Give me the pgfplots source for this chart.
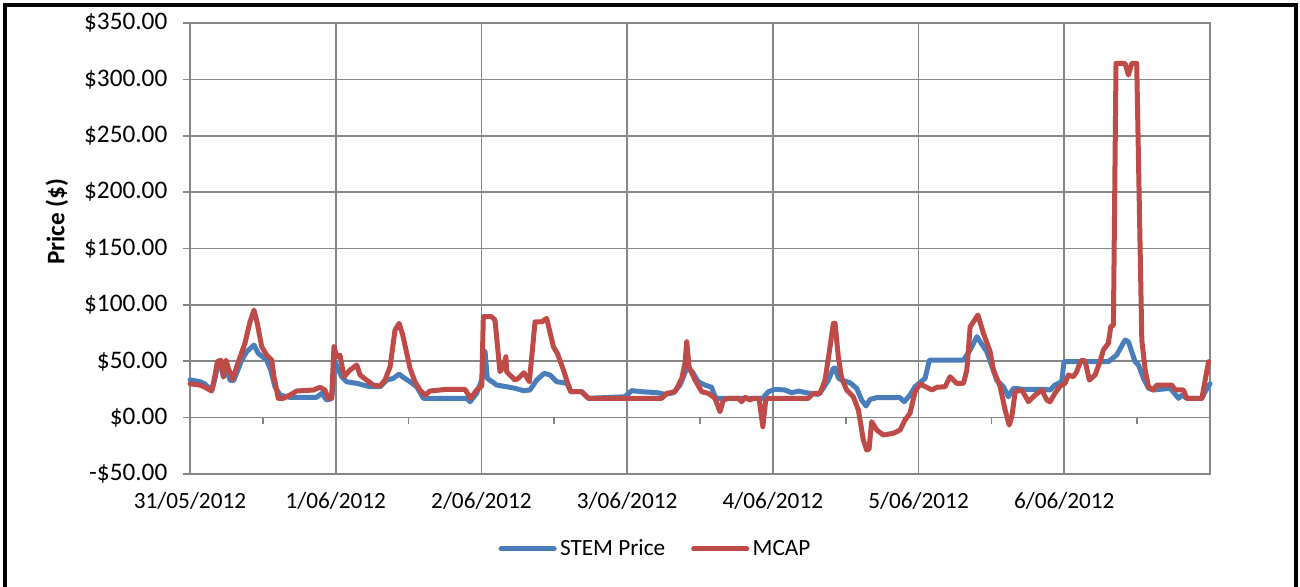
\documentclass[border=0pt]{standalone}
\usepackage{fontspec}
\setmainfont{Carlito}
\usepackage{pgfplots}
\pgfplotsset{compat=1.18}
\definecolor{stemblue}{HTML}{4A7EBB}
\definecolor{mcapred}{HTML}{BE4B48}
\definecolor{gridgray}{HTML}{868686}
\newcommand{\xfont}{\fontsize{17.5}{21}\selectfont}
\newcommand{\yfont}{\fontsize{19}{23}\selectfont}
\newcommand{\lfont}{\fontsize{17.5}{21}\selectfont}
\begin{document}
\begin{tikzpicture}
\useasboundingbox (0bp,0bp) rectangle (975bp,440.25bp);
\draw[black, line width=3.5bp] (3.75bp,-10bp) -- (3.75bp,436.5bp) -- (972bp,436.5bp) -- (972bp,-10bp);
\begin{axis}[
  at={(142.5bp,84.75bp)}, anchor=south west,
  width=765bp, height=338.25bp, scale only axis,
  xmin=0, xmax=7, ymin=-50, ymax=350,
  xtick={0,1,2,3,4,5,6}, xticklabels={31/05/2012,1/06/2012,2/06/2012,3/06/2012,4/06/2012,5/06/2012,6/06/2012},
  ytick={-50,0,50,100,150,200,250,300,350},
  yticklabels={-\$50.00,\$0.00,\$50.00,\$100.00,\$150.00,\$200.00,\$250.00,\$300.00,\$350.00},
  xmajorgrids, ymajorgrids,
  grid style={gridgray, line width=1.2bp},
  axis line style={gridgray, line width=1.2bp},
  xtick style={draw=none},
  ytick style={gridgray, line width=1.2bp},
  ytick pos=left, tick align=outside, major tick length=5.5bp,
  xticklabel style={font=\xfont, text=black, yshift=-5bp},
  yticklabel style={font=\yfont, text=black, xshift=-8bp},
  every axis y label/.style={at={(axis description cs:-0.1304,0.559)}, rotate=90, anchor=center, font=\yfont},
  ylabel={\textbf{Price (\$)}},
  legend style={at={(axis description cs:0.457,-0.166)}, anchor=center, draw=none, fill=none,
    font=\lfont, legend columns=2, nodes={inner xsep=2.5bp},
    /tikz/every even column/.append style={column sep=17bp}},
  legend image code/.code={\draw[#1, line width=3.6bp, line cap=round] (0,0) -- (40bp,0);},
  clip=false,
]
\pgfplotsinvokeforeach{0.5,1.5,2.5,3.5,4.5,5.5,6.5,7}{
  \draw[gridgray, line width=1.2bp] (axis cs:#1,0) -- ([yshift=-4.5bp]axis cs:#1,0);
}
\addplot[stemblue, line width=3.75bp, line join=round, line cap=round] table {
0.000 33.5
0.070 31.8
0.100 30
0.150 24
0.172 35
0.190 46
0.210 48
0.230 36
0.250 44
0.275 33
0.300 33
0.355 51
0.389 58.5
0.439 64.4
0.469 57
0.526 51
0.554 42.2
0.583 27.4
0.618 20
0.686 18
0.869 18
0.904 21.5
0.938 15.6
0.972 17
0.995 50
1.010 45
1.041 36.3
1.075 31.8
1.144 30.4
1.235 27.4
1.304 27.4
1.350 33.3
1.396 34.9
1.435 38.7
1.464 35.7
1.510 31.8
1.556 27.4
1.602 17.1
1.899 17.1
1.922 14.1
1.967 21.5
2.002 33.3
2.025 58.5
2.040 34.9
2.105 28.9
2.173 27.4
2.231 26
2.288 23.9
2.333 24.5
2.379 33.3
2.430 39.3
2.471 37.8
2.517 31.8
2.563 31
2.590 30
2.613 23
2.688 23
2.734 17.1
2.985 18.5
3.031 23.9
3.100 23
3.214 22
3.260 20.6
3.317 22
3.363 28.9
3.409 43.7
3.447 40.7
3.488 31.8
3.534 28.9
3.580 26.9
3.603 18.5
3.620 17.1
3.930 17.1
3.969 23
4.015 25.1
4.084 24.5
4.130 22
4.175 23.6
4.232 22
4.312 20.6
4.346 26
4.381 33.3
4.415 43.7
4.427 44
4.450 35
4.472 33.3
4.529 31
4.575 26
4.609 15.6
4.639 10.3
4.667 16.2
4.713 17.7
4.873 17.7
4.901 14.1
4.941 20
4.976 27.4
5.045 34.9
5.074 51
5.308 51
5.354 60
5.400 71.8
5.468 58.5
5.536 33.3
5.582 27.4
5.616 18.5
5.651 26
5.719 25.1
5.856 25.1
5.902 24.5
5.936 28.9
5.982 31.8
5.998 49.6
6.302 49.6
6.359 55.5
6.417 68.8
6.440 67.3
6.486 49.6
6.509 46.7
6.543 34.9
6.578 26
6.612 24.5
6.727 26
6.784 17.1
6.807 20
6.841 17.1
6.944 17.1
6.975 25
7.000 30
};
\addlegendentry{STEM Price}
\addplot[mcapred, line width=3.75bp, line join=round, line cap=round] table {
0.000 30
0.069 28.9
0.103 26.9
0.149 23.6
0.172 37.8
0.188 49.6
0.211 51
0.229 36.3
0.247 51
0.263 43.7
0.293 34
0.320 45
0.377 65.9
0.412 85
0.439 95.4
0.462 83.6
0.492 62.9
0.526 55.5
0.561 51
0.576 36.3
0.606 17.1
0.640 17.1
0.686 20
0.732 23.6
0.847 24.5
0.892 26.9
0.926 24.5
0.949 17.1
0.972 17.1
0.988 62.9
1.007 54
1.029 55.5
1.057 36.3
1.098 42.2
1.144 46.7
1.167 37.8
1.212 33.3
1.258 28.9
1.304 28
1.338 33.3
1.373 45
1.407 77.7
1.435 83.6
1.460 73.3
1.510 43.7
1.544 31.8
1.578 24.5
1.613 20
1.647 23.6
1.762 25.1
1.887 25.1
1.926 17.1
1.967 24.5
2.002 28
2.013 89.5
2.070 89.5
2.093 86.6
2.127 40.7
2.150 45
2.168 54
2.173 40.7
2.231 33.3
2.253 34.9
2.292 39.8
2.329 31.8
2.368 85
2.414 85
2.448 88
2.494 62.9
2.521 57
2.563 42.2
2.585 33.3
2.613 23
2.688 23
2.734 17.1
3.237 17.1
3.272 21.5
3.329 23
3.375 34.9
3.397 48.2
3.409 67.3
3.425 45
3.466 33.3
3.512 23
3.558 21.5
3.603 17.1
3.637 5.2
3.660 15.6
3.695 17.1
3.763 17.1
3.786 14.1
3.810 18
3.843 15.6
3.866 17
3.905 17.1
3.931 -8.1
3.951 15.6
3.970 17.1
4.243 17.1
4.278 21.5
4.324 21.5
4.358 33.3
4.381 52.6
4.415 83.6
4.427 83.6
4.449 54
4.472 34.9
4.507 24.5
4.552 18.5
4.587 6.7
4.621 -19.9
4.644 -28.7
4.660 -28
4.678 -3.6
4.713 -11
4.758 -15.4
4.827 -13.9
4.873 -11
4.907 -2.1
4.941 3.8
4.976 23
5.010 29.8
5.056 26.9
5.091 24.5
5.125 26.9
5.182 27.4
5.216 36.3
5.262 30.4
5.308 30.4
5.331 42.2
5.354 80.6
5.377 85
5.407 91
5.445 74.8
5.491 58.5
5.514 42.2
5.560 27.4
5.594 6.7
5.622 -6.6
5.640 0.8
5.663 23
5.709 24.5
5.754 14.1
5.800 20
5.846 24.5
5.880 15.6
5.902 14.1
5.936 21.5
5.971 28
6.005 30.4
6.028 37.8
6.062 36.3
6.085 40.7
6.113 50.5
6.142 50.5
6.172 33.3
6.211 37.8
6.245 49.6
6.268 60
6.302 65.9
6.319 80.6
6.337 82
6.355 314.2
6.417 314.2
6.440 303.9
6.463 314.2
6.497 314.2
6.532 68.8
6.555 42.2
6.578 27.4
6.612 24.5
6.635 28.9
6.738 28.9
6.761 24.5
6.818 24.5
6.841 17.1
6.944 17.1
6.990 49.6
};
\addlegendentry{MCAP}
\end{axis}
\end{tikzpicture}
\end{document}
